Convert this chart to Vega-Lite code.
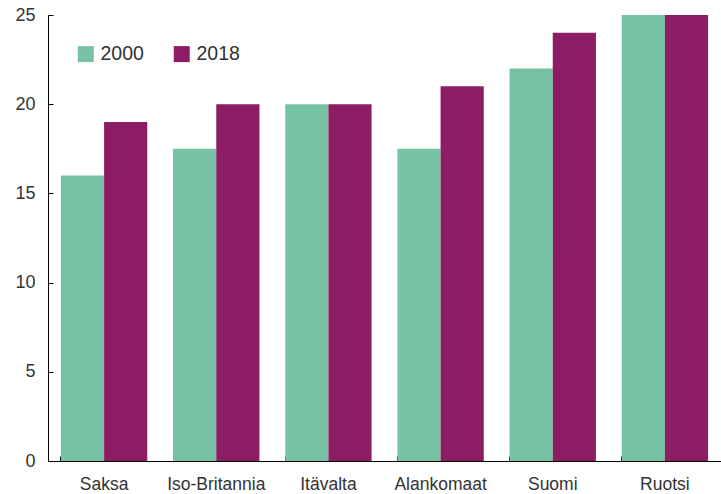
{
  "$schema": "https://vega.github.io/schema/vega-lite/v6.json",
  "autosize": {"type": "none"},
  "width": 673,
  "height": 446,
  "padding": {"left": 48, "top": 15, "right": 0, "bottom": 33},
  "background": "white",
  "data": {"values": [
    {"maa": "Saksa", "vuosi": "2000", "arvo": 16},
    {"maa": "Saksa", "vuosi": "2018", "arvo": 19},
    {"maa": "Iso-Britannia", "vuosi": "2000", "arvo": 17.5},
    {"maa": "Iso-Britannia", "vuosi": "2018", "arvo": 20},
    {"maa": "Itävalta", "vuosi": "2000", "arvo": 20},
    {"maa": "Itävalta", "vuosi": "2018", "arvo": 20},
    {"maa": "Alankomaat", "vuosi": "2000", "arvo": 17.5},
    {"maa": "Alankomaat", "vuosi": "2018", "arvo": 21},
    {"maa": "Suomi", "vuosi": "2000", "arvo": 22},
    {"maa": "Suomi", "vuosi": "2018", "arvo": 24},
    {"maa": "Ruotsi", "vuosi": "2000", "arvo": 25},
    {"maa": "Ruotsi", "vuosi": "2018", "arvo": 25}
  ]},
  "mark": {"type": "bar"},
  "encoding": {
    "x": {
      "field": "maa", "type": "nominal", "sort": null,
      "scale": {"paddingInner": 0.23, "paddingOuter": 0.115},
      "axis": {
        "title": null, "labelAngle": 0, "bandPosition": 0,
        "tickSize": -5, "tickColor": "black", "domainColor": "black",
        "labelFont": "Liberation Sans", "labelFontSize": 17.5, "labelColor": "#333333",
        "labelPadding": 19, "grid": false
      }
    },
    "xOffset": {"field": "vuosi", "type": "nominal"},
    "y": {
      "field": "arvo", "type": "quantitative",
      "scale": {"domain": [0, 25], "nice": false},
      "axis": {
        "title": null, "values": [0, 5, 10, 15, 20, 25], "grid": false,
        "tickSize": -5, "tickColor": "black", "domainColor": "black",
        "labelFont": "Liberation Sans", "labelFontSize": 18, "labelColor": "#333333",
        "labelPadding": 18
      }
    },
    "color": {
      "field": "vuosi", "type": "nominal",
      "scale": {"domain": ["2000", "2018"], "range": ["#78c2a4", "#8c1d65"]},
      "legend": {
        "title": null, "orient": "none", "direction": "horizontal",
        "legendX": 28, "legendY": 29,
        "symbolType": "square", "symbolSize": 256, "symbolStrokeWidth": 0,
        "symbolOpacity": 1,
        "labelFont": "Liberation Sans", "labelFontSize": 19.5, "labelColor": "#333333",
        "columnPadding": 28, "labelOffset": 5
      }
    }
  },
  "config": {"view": {"stroke": null}}
}
